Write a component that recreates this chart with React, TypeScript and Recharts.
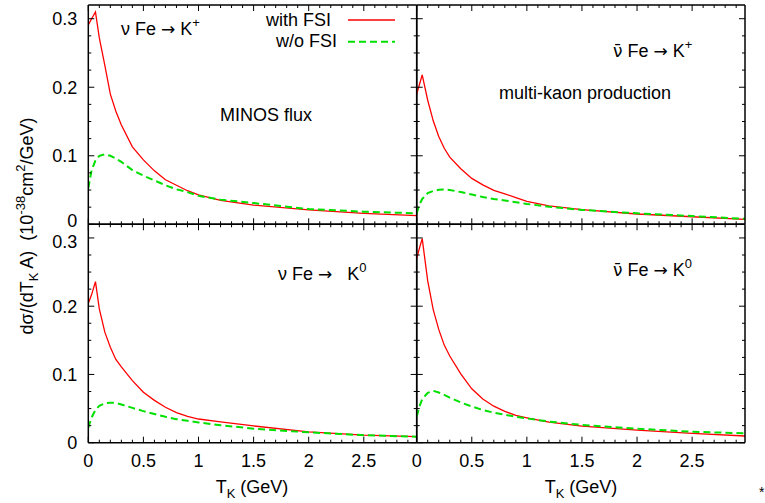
import React from 'react';
import { LineChart, Line, XAxis, YAxis } from 'recharts';

// kaon kinetic energy grids (GeV), one per column of panels
const tLeft = [0, 0.03, 0.065, 0.1, 0.15, 0.2, 0.25, 0.3, 0.4, 0.5, 0.6, 0.7, 0.8, 0.9, 1.0, 1.2, 1.5, 2.0, 2.5, 2.98];
const tRight = [0, 0.025, 0.05, 0.1, 0.15, 0.2, 0.25, 0.3, 0.4, 0.5, 0.6, 0.7, 0.8, 0.9, 1.0, 1.2, 1.5, 2.0, 2.5, 2.98];

// nu Fe -> K+
const nuKPlusWith = [0.291, 0.3, 0.31, 0.272, 0.232, 0.19, 0.165, 0.145, 0.113, 0.094, 0.078, 0.065, 0.057, 0.049, 0.043, 0.035, 0.028, 0.021, 0.016, 0.0126];
const nuKPlusWithout = [0.0525, 0.079, 0.093, 0.1, 0.102, 0.1, 0.096, 0.091, 0.079, 0.071, 0.064, 0.057, 0.051, 0.047, 0.0415, 0.036, 0.031, 0.0223, 0.0184, 0.016];

// anti-nu Fe -> K+
const nubarKPlusWith = [0.19, 0.204, 0.218, 0.181, 0.151, 0.128, 0.111, 0.098, 0.081, 0.067, 0.0575, 0.0495, 0.0445, 0.039, 0.0335, 0.027, 0.0215, 0.015, 0.011, 0.0073];
const nubarKPlusWithout = [0.016, 0.029, 0.037, 0.0455, 0.0485, 0.0505, 0.051, 0.0502, 0.047, 0.0435, 0.0398, 0.037, 0.0348, 0.0323, 0.0297, 0.0257, 0.021, 0.016, 0.012, 0.008];

// nu Fe -> K0
const nuKZeroWith = [0.204, 0.217, 0.236, 0.196, 0.162, 0.14, 0.122, 0.111, 0.091, 0.074, 0.062, 0.052, 0.044, 0.0385, 0.0347, 0.0305, 0.0245, 0.016, 0.011, 0.0088];
const nuKZeroWithout = [0.022, 0.037, 0.048, 0.054, 0.0577, 0.0585, 0.0584, 0.056, 0.051, 0.0463, 0.042, 0.038, 0.0345, 0.032, 0.0297, 0.0257, 0.0205, 0.0152, 0.011, 0.0088];

// anti-nu Fe -> K0
const nubarKZeroWith = [0.27, 0.285, 0.299, 0.237, 0.195, 0.166, 0.143, 0.127, 0.101, 0.079, 0.064, 0.0535, 0.046, 0.04, 0.0365, 0.03, 0.0243, 0.0185, 0.0138, 0.0098];
const nubarKZeroWithout = [0.038, 0.053, 0.064, 0.073, 0.076, 0.0735, 0.07, 0.066, 0.059, 0.053, 0.048, 0.044, 0.041, 0.038, 0.0355, 0.031, 0.026, 0.0205, 0.016, 0.0138];

const xTicks = [0, 0.1, 0.2, 0.3, 0.4, 0.5, 0.6, 0.7, 0.8, 0.9, 1, 1.1, 1.2, 1.3, 1.4, 1.5, 1.6, 1.7, 1.8, 1.9, 2, 2.1, 2.2, 2.3, 2.4, 2.5, 2.6, 2.7, 2.8, 2.9];
const yTicks = [0, 0.025, 0.05, 0.075, 0.1, 0.125, 0.15, 0.175, 0.2, 0.225, 0.25, 0.275, 0.3];

const W = 765;
const H = 503;
const FONT = '"Liberation Sans", Arial, Helvetica, sans-serif';
const SYM = '"DejaVu Sans", sans-serif';
const colX = [88.3, 416.7, 745];
const rowY = [5, 224.3, 442.7];
const frame = { stroke: '#000', strokeWidth: 1.5 };

const isMajorX = (v: number) => Math.round(v * 10) % 5 === 0;
const isMajorY = (v: number) => Math.round(v * 1000) % 100 === 0;

type Side = 'bottom' | 'top' | 'left' | 'right';

// row is used to nudge the two labels that meet at the shared border apart
function makeTick(side: Side, showLabel: boolean, row = 0) {
  return (props: any) => {
    const { x, y, payload } = props;
    const v = payload.value as number;
    const horiz = side === 'bottom' || side === 'top';
    const major = horiz ? isMajorX(v) : isMajorY(v);
    const len = major ? 6 : 3;
    let line;
    if (side === 'bottom') line = <line x1={x} y1={y} x2={x} y2={y - len} />;
    else if (side === 'top') line = <line x1={x} y1={y} x2={x} y2={y + len} />;
    else if (side === 'left') line = <line x1={x} y1={y} x2={x + len} y2={y} />;
    else line = <line x1={x} y1={y} x2={x - len} y2={y} />;
    let label = null;
    if (showLabel && major) {
      let dy = 6.5;
      if (row === 0 && v === 0) dy = 2.5;
      if (row === 1 && Math.abs(v - 0.3) < 1e-9) dy = 10.5;
      label =
        side === 'bottom' ? (
          <text x={x} y={y + 24} textAnchor="middle" fontSize={18} fontFamily={FONT} fill="#000">
            {String(v)}
          </text>
        ) : (
          <text x={x - 11} y={y + dy} textAnchor="end" fontSize={18} fontFamily={FONT} fill="#000">
            {String(v)}
          </text>
        );
    }
    return (
      <g>
        <g stroke="#000" strokeWidth={1}>{line}</g>
        {label}
      </g>
    );
  };
}

type PanelProps = {
  col: number;
  row: number;
  t: number[];
  withFsi: number[];
  withoutFsi: number[];
  xLabels: boolean;
  yLabels: boolean;
};

function Panel({ col, row, t, withFsi, withoutFsi, xLabels, yLabels }: PanelProps) {
  const rows = t.map((tk, i) => ({ t: tk, withFsi: withFsi[i], withoutFsi: withoutFsi[i] }));
  const common = {
    type: 'number' as const,
    interval: 0 as const,
    tickSize: 0,
    tickMargin: 0,
    tickLine: false,
    axisLine: frame,
    allowDataOverflow: true,
  };
  // axes get a 1px box (a 0px one is not drawn), so margins are shrunk by 1
  return (
    <div style={{ position: 'absolute', left: 0, top: 0 }}>
      <LineChart
        width={W}
        height={H}
        data={rows}
        margin={{
          top: rowY[row] - 1,
          left: colX[col] - 1,
          right: W - colX[col + 1] - 1,
          bottom: H - rowY[row + 1] - 1,
        }}
      >
        <XAxis {...common} xAxisId={0} dataKey="t" domain={[0, 2.98]} ticks={xTicks} height={1} tick={makeTick('bottom', xLabels)} />
        <XAxis {...common} xAxisId="top" orientation="top" dataKey="t" domain={[0, 2.98]} ticks={xTicks} height={1} tick={makeTick('top', false)} />
        <YAxis {...common} yAxisId={0} domain={[0, 0.32]} ticks={yTicks} width={1} tick={makeTick('left', yLabels, row)} />
        <YAxis {...common} yAxisId="right" orientation="right" domain={[0, 0.32]} ticks={yTicks} width={1} tick={makeTick('right', false)} />
        <Line xAxisId={0} yAxisId={0} dataKey="withFsi" type="linear" stroke="#ff0000" strokeWidth={1.3} dot={false} isAnimationActive={false} />
        <Line xAxisId={0} yAxisId={0} dataKey="withoutFsi" type="linear" stroke="#00e000" strokeWidth={2} strokeDasharray="7 4" dot={false} isAnimationActive={false} />
      </LineChart>
    </div>
  );
}

const txt = { fontFamily: FONT, fontSize: 18, fill: '#000', style: { whiteSpace: 'pre' as const } };

function Arrow() {
  return <tspan fontFamily={SYM} fontSize={17}>{'→'}</tspan>;
}

function NuBar() {
  return <tspan fontFamily={SYM} fontSize={17}>{'ν\u0304'}</tspan>;
}

export default function App() {
  return (
    <div style={{ position: 'absolute', left: 0, top: 0, width: W, height: H, background: '#fff' }}>
      <Panel col={0} row={0} t={tLeft} withFsi={nuKPlusWith} withoutFsi={nuKPlusWithout} xLabels={false} yLabels />
      <Panel col={1} row={0} t={tRight} withFsi={nubarKPlusWith} withoutFsi={nubarKPlusWithout} xLabels={false} yLabels={false} />
      <Panel col={0} row={1} t={tLeft} withFsi={nuKZeroWith} withoutFsi={nuKZeroWithout} xLabels yLabels />
      <Panel col={1} row={1} t={tRight} withFsi={nubarKZeroWith} withoutFsi={nubarKZeroWithout} xLabels yLabels={false} />
      <svg width={W} height={H} style={{ position: 'absolute', left: 0, top: 0, pointerEvents: 'none' }}>
        {/* legend */}
        <text {...txt} x={331} y={26} textAnchor="end">with FSI</text>
        <line x1={348} y1={20} x2={395} y2={20} stroke="#ff0000" strokeWidth={1.3} />
        <text {...txt} x={337} y={47} textAnchor="end">w/o FSI</text>
        <line x1={348} y1={41.7} x2={395} y2={41.7} stroke="#00e000" strokeWidth={2} strokeDasharray="7 4" />

        {/* panel annotations */}
        <text {...txt} x={121} y={35}>
          {'ν Fe '}<Arrow />{' K'}<tspan dy={-8} fontSize={13}>+</tspan>
        </text>
        <text {...txt} x={220} y={121}>MINOS flux</text>
        <text {...txt} x={613} y={57}>
          <NuBar />{' Fe '}<Arrow />{' K'}<tspan dy={-8} fontSize={13}>+</tspan>
        </text>
        <text {...txt} x={499} y={99}>multi-kaon production</text>
        <text {...txt} x={278} y={280}>
          {'ν Fe '}<Arrow />{'   K'}<tspan dy={-8} fontSize={13}>0</tspan>
        </text>
        <text {...txt} x={613} y={276}>
          <NuBar />{' Fe '}<Arrow />{' K'}<tspan dy={-8} fontSize={13}>0</tspan>
        </text>

        {/* axis titles */}
        <text {...txt} x={252} y={493} textAnchor="middle">
          T<tspan dy={5} fontSize={13}>K</tspan><tspan dy={-5}> (GeV)</tspan>
        </text>
        <text {...txt} x={581} y={493} textAnchor="middle">
          T<tspan dy={5} fontSize={13}>K</tspan><tspan dy={-5}> (GeV)</tspan>
        </text>
        <text {...txt} x={33} y={226} textAnchor="middle" transform="rotate(-90 33 226)">
          dσ/(dT<tspan dy={5} fontSize={13}>K</tspan>
          <tspan dy={-5}>{' A)  (10'}</tspan>
          <tspan dy={-8} fontSize={13}>-38</tspan>
          <tspan dy={8}>cm</tspan>
          <tspan dy={-8} fontSize={13}>2</tspan>
          <tspan dy={8}>/GeV)</tspan>
        </text>
        <text x={759} y={497} fontFamily={FONT} fontSize={14} fill="#000">*</text>
      </svg>
    </div>
  );
}
